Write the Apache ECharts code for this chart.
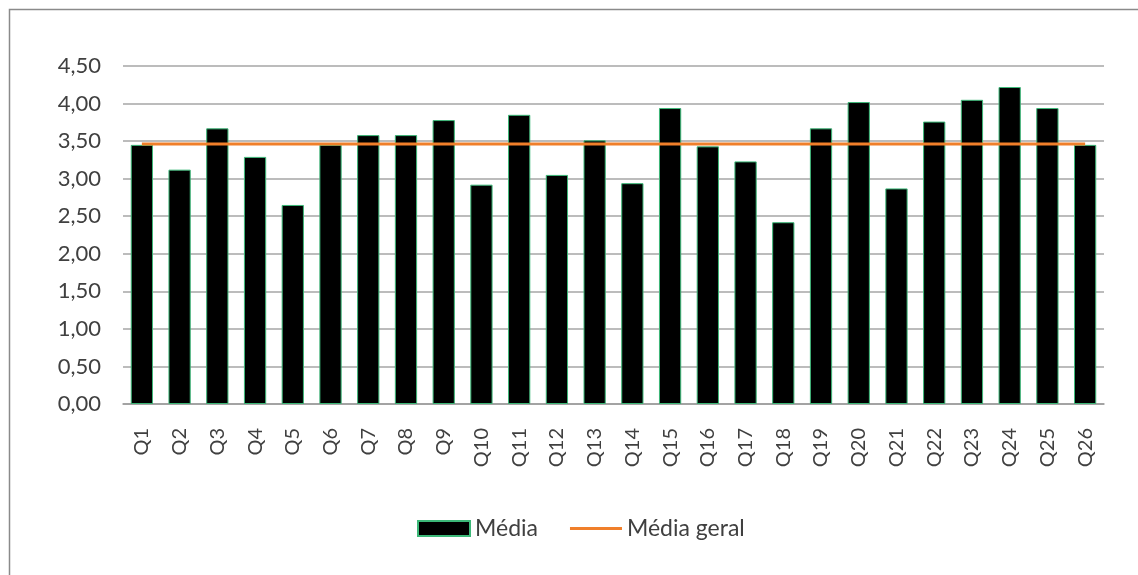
<!DOCTYPE html>
<html>
<head>
<meta charset="utf-8">
<script src="https://cdn.jsdelivr.net/npm/echarts@6/dist/echarts.min.js"></script>
<style>html,body{margin:0;padding:0;background:#fff}#c{width:1138px;height:575px}</style>
</head>
<body>
<div id="c"></div>
<script>
const categories = ['Q1','Q2','Q3','Q4','Q5','Q6','Q7','Q8','Q9','Q10','Q11','Q12','Q13','Q14','Q15','Q16','Q17','Q18','Q19','Q20','Q21','Q22','Q23','Q24','Q25','Q26'];
const media = [3.45,3.12,3.67,3.29,2.65,3.45,3.58,3.58,3.78,2.92,3.85,3.05,3.51,2.94,3.94,3.43,3.23,2.42,3.67,4.02,2.87,3.76,4.05,4.22,3.94,3.45];
const mediaGeral = [3.46,3.46,3.46,3.46,3.46,3.46,3.46,3.46,3.46,3.46,3.46,3.46,3.46,3.46,3.46,3.46,3.46,3.46,3.46,3.46,3.46,3.46,3.46,3.46,3.46,3.46];
const seriesNames = ['Média','Média geral'];

const chart = echarts.init(document.getElementById('c'), null, {renderer:'canvas'});
const font = 'Lato, "Open Sans", sans-serif';
chart.setOption({
  animation:false,
  backgroundColor:'#fff',
  graphic:[{type:'rect', shape:{x:9.5,y:9.5,width:1300,height:800}, style:{fill:'none', stroke:'#8a8a8a', lineWidth:1.5}, silent:true, z:-1}],
  grid:{left:123, right:34, top:66, bottom:171},
  legend:{
    top:517, left:417, padding:0, itemGap:32, itemWidth:52, itemHeight:15,
    textStyle:{fontFamily:font, fontSize:23, color:'#404040'},
    data:[
      {name:seriesNames[0], icon:'rect'},
      {name:seriesNames[1], icon:'path://M0,0H100V6H0Z'}
    ]
  },
  xAxis:{
    type:'category', data:categories,
    axisTick:{show:false},
    axisLine:{lineStyle:{color:'#9a9a9a', width:1.5}},
    axisLabel:{rotate:90, fontFamily:font, fontSize:20, color:'#404040', margin:24, interval:0}
  },
  yAxis:{
    type:'value', min:0, max:4.5, interval:0.5,
    axisLine:{show:false}, axisTick:{show:false},
    splitLine:{lineStyle:{color:'#a6a6a6', width:1.5}},
    axisLabel:{fontFamily:font, fontSize:22, color:'#404040', margin:22,
      formatter:v=>v.toFixed(2).replace('.',',')}
  },
  series:[
    {name:seriesNames[0], type:'bar', data:media, barCategoryGap:'41%',
     itemStyle:{color:'#000', borderColor:'#3cb878', borderWidth:1}},
    {name:seriesNames[1], type:'line', data:mediaGeral, symbol:'none',
     lineStyle:{color:'#f07f2a', width:3}, itemStyle:{color:'#f07f2a'}}
  ]
});
</script>
</body>
</html>
